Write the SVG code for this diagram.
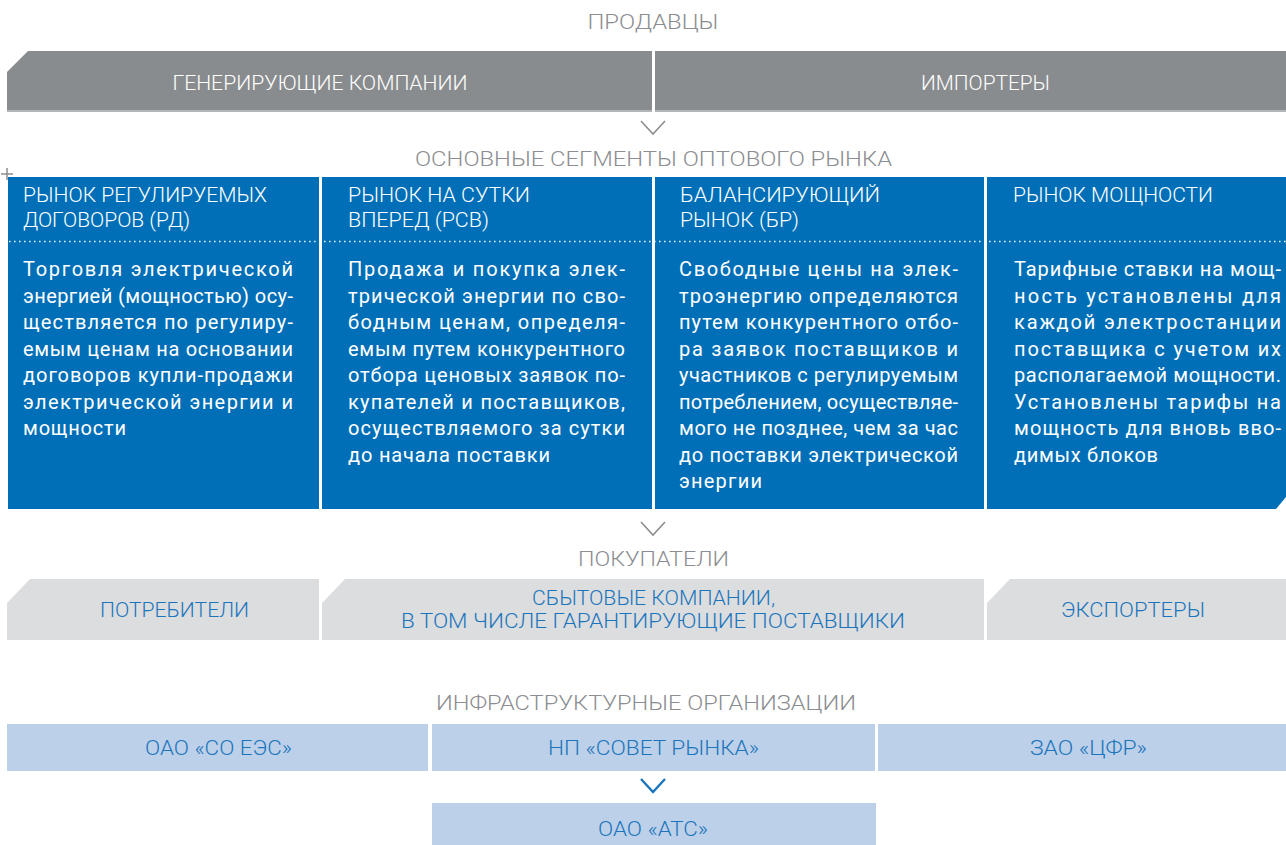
<svg xmlns="http://www.w3.org/2000/svg" width="1286" height="845" viewBox="0 0 1286 845">
<style>
.title{font-family:Roboto,"Liberation Sans",sans-serif;font-weight:300;font-size:21px;fill:#8b8d90;text-anchor:middle}
.wt{font-family:Roboto,"Liberation Sans",sans-serif;font-weight:300;font-size:21px;fill:#ffffff}
.wtc{font-family:Roboto,"Liberation Sans",sans-serif;font-weight:300;font-size:21px;fill:#ffffff;text-anchor:middle}
.bt{font-family:Roboto,"Liberation Sans",sans-serif;font-weight:300;font-size:21px;fill:#1b75bc;text-anchor:middle}
.body{font-family:Roboto,"Liberation Sans",sans-serif;font-weight:400;font-size:20px;fill:#ffffff}
.gray{fill:#898c8e}
.blue{fill:#006fb7}
.lgray{fill:#dcdddf}
.lblue{fill:#bdd0e9}
.chev{fill:none;stroke:#8b8d90;stroke-width:1.6}
.chevb{fill:none;stroke:#1b75bc;stroke-width:2.4}
</style>

<text class="title" x="653" y="29" textLength="131" lengthAdjust="spacingAndGlyphs">ПРОДАВЦЫ</text>

<g id="sellers-gen">
<path class="gray" d="M7,72 L28,51 H652 V112 H7 Z"/>
<rect x="7" y="110" width="645" height="2" fill="#b3b5b7"/>
<text class="wtc" x="320" y="90" textLength="295" lengthAdjust="spacingAndGlyphs">ГЕНЕРИРУЮЩИЕ КОМПАНИИ</text>
</g>
<g id="sellers-imp">
<rect class="gray" x="655" y="51" width="631" height="61"/>
<rect x="655" y="110" width="631" height="2" fill="#b3b5b7"/>
<text class="wtc" x="985.5" y="90" textLength="129" lengthAdjust="spacingAndGlyphs">ИМПОРТЕРЫ</text>
</g>

<text class="title" x="653.5" y="166" textLength="477" lengthAdjust="spacingAndGlyphs">ОСНОВНЫЕ СЕГМЕНТЫ ОПТОВОГО РЫНКА</text>

<g id="plus"><path d="M7,168 V180 M1,174 H13" stroke="#8b8d90" stroke-width="1.5" fill="none"/></g>

<g id="seg-rd">
<rect class="blue" x="8" y="177" width="311" height="332"/>
<text class="wt" x="23" y="202" textLength="244" lengthAdjust="spacingAndGlyphs">РЫНОК РЕГУЛИРУЕМЫХ</text>
<text class="wt" x="23" y="227" textLength="167" lengthAdjust="spacingAndGlyphs">ДОГОВОРОВ (РД)</text>
<g class="body">
<text x="23" y="276" textLength="270" lengthAdjust="spacing">Торговля электрической</text>
<text x="23" y="302.5" textLength="270" lengthAdjust="spacing">энергией (мощностью) осу-</text>
<text x="23" y="329" textLength="270" lengthAdjust="spacing">ществляется по регулиру-</text>
<text x="23" y="355.5" textLength="270" lengthAdjust="spacing">емым ценам на основании</text>
<text x="23" y="382" textLength="270" lengthAdjust="spacing">договоров купли-продажи</text>
<text x="23" y="408.5" textLength="270" lengthAdjust="spacing">электрической энергии и</text>
<text x="23" y="435" textLength="103" lengthAdjust="spacing">мощности</text>
</g>
</g>

<g id="seg-rsv">
<rect class="blue" x="322" y="177" width="330" height="332"/>
<text class="wt" x="348" y="202" textLength="182" lengthAdjust="spacingAndGlyphs">РЫНОК НА СУТКИ</text>
<text class="wt" x="348" y="227" textLength="141" lengthAdjust="spacingAndGlyphs">ВПЕРЕД (РСВ)</text>
<g class="body">
<text x="348" y="276" textLength="277" lengthAdjust="spacing">Продажа и покупка элек-</text>
<text x="348" y="302.5" textLength="277" lengthAdjust="spacing">трической энергии по сво-</text>
<text x="348" y="329" textLength="277" lengthAdjust="spacing">бодным ценам, определя-</text>
<text x="348" y="355.5" textLength="277" lengthAdjust="spacing">емым путем конкурентного</text>
<text x="348" y="382" textLength="277" lengthAdjust="spacing">отбора ценовых заявок по-</text>
<text x="348" y="408.5" textLength="277" lengthAdjust="spacing">купателей и поставщиков,</text>
<text x="348" y="435" textLength="277" lengthAdjust="spacing">осуществляемого за сутки</text>
<text x="348" y="461.5" textLength="202" lengthAdjust="spacing">до начала поставки</text>
</g>
</g>

<g id="seg-br">
<rect class="blue" x="655" y="177" width="329" height="332"/>
<text class="wt" x="680" y="202" textLength="200" lengthAdjust="spacingAndGlyphs">БАЛАНСИРУЮЩИЙ</text>
<text class="wt" x="680" y="227" textLength="119" lengthAdjust="spacingAndGlyphs">РЫНОК (БР)</text>
<g class="body">
<text x="679" y="276" textLength="279" lengthAdjust="spacing">Свободные цены на элек-</text>
<text x="679" y="302.5" textLength="279" lengthAdjust="spacing">троэнергию определяются</text>
<text x="679" y="329" textLength="279" lengthAdjust="spacing">путем конкурентного отбо-</text>
<text x="679" y="355.5" textLength="279" lengthAdjust="spacing">ра заявок поставщиков и</text>
<text x="679" y="382" textLength="279" lengthAdjust="spacing">участников с регулируемым</text>
<text x="679" y="408.5" textLength="279" lengthAdjust="spacing">потреблением, осуществляе-</text>
<text x="679" y="435" textLength="279" lengthAdjust="spacing">мого не позднее, чем за час</text>
<text x="679" y="461.5" textLength="279" lengthAdjust="spacing">до поставки электрической</text>
<text x="679" y="488" textLength="83" lengthAdjust="spacing">энергии</text>
</g>
</g>

<g id="seg-power">
<path class="blue" d="M987,177 H1286 V497 L1276,509 H987 Z"/>
<text class="wt" x="1013" y="202" textLength="200" lengthAdjust="spacingAndGlyphs">РЫНОК МОЩНОСТИ</text>
<g class="body">
<text x="1014" y="276" textLength="267" lengthAdjust="spacing">Тарифные ставки на мощ-</text>
<text x="1014" y="302.5" textLength="267" lengthAdjust="spacing">ность установлены для</text>
<text x="1014" y="329" textLength="267" lengthAdjust="spacing">каждой электростанции</text>
<text x="1014" y="355.5" textLength="267" lengthAdjust="spacing">поставщика с учетом их</text>
<text x="1014" y="382" textLength="267" lengthAdjust="spacing">располагаемой мощности.</text>
<text x="1014" y="408.5" textLength="267" lengthAdjust="spacing">Установлены тарифы на</text>
<text x="1014" y="435" textLength="267" lengthAdjust="spacing">мощность для вновь вво-</text>
<text x="1014" y="461.5" textLength="144" lengthAdjust="spacing">димых блоков</text>
</g>
</g>

<line x1="9" y1="241.5" x2="1286" y2="241.5" stroke="#ffffff" stroke-width="1.6" stroke-dasharray="1.6 3.4" opacity="0.9"/>

<text class="title" x="653.5" y="566" textLength="151" lengthAdjust="spacingAndGlyphs">ПОКУПАТЕЛИ</text>

<g id="buyer-consumers">
<path class="lgray" d="M7,603 L30,579 H319 V640 H7 Z"/>
<text class="bt" x="174.5" y="617" textLength="149" lengthAdjust="spacingAndGlyphs">ПОТРЕБИТЕЛИ</text>
</g>
<g id="buyer-sales">
<path class="lgray" d="M322,603 L345,579 H984 V640 H322 Z"/>
<text class="bt" x="653.5" y="605" textLength="243" lengthAdjust="spacingAndGlyphs">СБЫТОВЫЕ КОМПАНИИ,</text>
<text class="bt" x="653" y="628" textLength="504" lengthAdjust="spacingAndGlyphs">В ТОМ ЧИСЛЕ ГАРАНТИРУЮЩИЕ ПОСТАВЩИКИ</text>
</g>
<g id="buyer-exporters">
<path class="lgray" d="M987,603 L1010,579 H1286 V640 H987 Z"/>
<text class="bt" x="1133" y="617" textLength="144" lengthAdjust="spacingAndGlyphs">ЭКСПОРТЕРЫ</text>
</g>

<text class="title" x="646" y="710" textLength="420" lengthAdjust="spacingAndGlyphs">ИНФРАСТРУКТУРНЫЕ ОРГАНИЗАЦИИ</text>

<g id="infra-so">
<rect class="lblue" x="7" y="724" width="421" height="47"/>
<text class="bt" x="218.5" y="755" textLength="147" lengthAdjust="spacingAndGlyphs">ОАО «СО ЕЭС»</text>
</g>
<g id="infra-np">
<rect class="lblue" x="432" y="724" width="443" height="47"/>
<text class="bt" x="653.5" y="755" textLength="211" lengthAdjust="spacingAndGlyphs">НП «СОВЕТ РЫНКА»</text>
</g>
<g id="infra-cfr">
<rect class="lblue" x="878" y="724" width="408" height="47"/>
<text class="bt" x="1088.5" y="755" textLength="117" lengthAdjust="spacingAndGlyphs">ЗАО «ЦФР»</text>
</g>
<g id="infra-ats">
<rect class="lblue" x="432" y="803" width="444" height="42"/>
<text class="bt" x="653" y="836" textLength="110" lengthAdjust="spacingAndGlyphs">ОАО «АТС»</text>
</g>

<g id="connectors">
<path class="chev" d="M641,121 L653,134 L665,121"/>
<path class="chev" d="M641,522 L653,535 L665,522"/>
<path class="chevb" d="M641,779 L653,792 L665,779"/>
</g>
</svg>
